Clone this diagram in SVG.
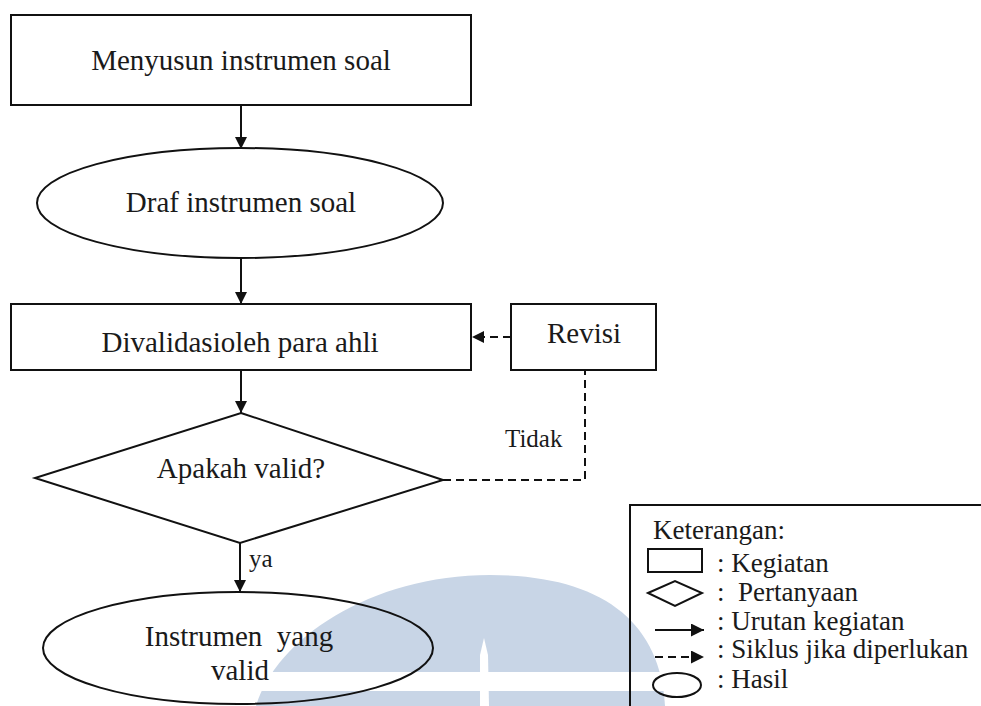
<svg xmlns="http://www.w3.org/2000/svg" width="981" height="706" viewBox="0 0 981 706">
<defs>
<marker id="ah" viewBox="0 0 10 10" refX="10" refY="5" markerWidth="13" markerHeight="12" markerUnits="userSpaceOnUse" orient="auto">
<path d="M0,0 L10,5 L0,10 Z" fill="#111"/>
</marker>
<marker id="ahs" viewBox="0 0 10 10" refX="10" refY="5" markerWidth="13" markerHeight="13" markerUnits="userSpaceOnUse" orient="auto">
<path d="M0,0 L10,5 L0,10 Z" fill="#111"/>
</marker>
</defs>
<style>
.bx{fill:#fff;stroke:#111;stroke-width:2}
.nf{fill:none;stroke:#111;stroke-width:2}
.ln{fill:none;stroke:#111;stroke-width:2}
.ds{fill:none;stroke:#111;stroke-width:2;stroke-dasharray:8 5}
.t{font-family:"Liberation Serif","Times New Roman",serif;font-size:29px;fill:#1a1a1a;text-anchor:middle}
.s{font-family:"Liberation Serif","Times New Roman",serif;font-size:25px;fill:#1a1a1a}
.lg{font-family:"Liberation Serif","Times New Roman",serif;font-size:27px;fill:#1a1a1a;white-space:pre}
.wm{fill:#c8d5e6}
</style>
<rect width="981" height="706" fill="#fff"/>
<g id="watermark">
<path class="wm" d="M256,706 C275,640 370,575 490,575 C600,575 660,620 665,706 Z"/>
<rect x="240" y="672" width="440" height="19" fill="#fff"/>
<path d="M480,706 L480,655 L484,638 L488,655 L489,706 Z" fill="#fff"/>
</g>
<g id="connectors">
<line class="ln" x1="241" y1="105" x2="241" y2="149" marker-end="url(#ah)"/>
<line class="ln" x1="241" y1="258" x2="241" y2="304" marker-end="url(#ah)"/>
<line class="ln" x1="241" y1="370" x2="241" y2="413" marker-end="url(#ah)"/>
<line class="ln" x1="240" y1="543" x2="240" y2="592" marker-end="url(#ah)"/>
<line class="ds" x1="511" y1="337" x2="472" y2="337" marker-end="url(#ah)"/>
<polyline class="ds" points="443,480 585,480 585,370"/>
<text class="s" x="505" y="447">Tidak</text>
<text class="s" x="249" y="567">ya</text>
</g>
<g id="n1">
<rect class="bx" x="11" y="15" width="460" height="90"/>
<text class="t" x="241" y="70">Menyusun instrumen soal</text>
</g>
<g id="n2">
<ellipse class="bx" cx="240" cy="203" rx="203" ry="55"/>
<text class="t" x="241" y="212">Draf instrumen soal</text>
</g>
<g id="n3">
<rect class="bx" x="11" y="304" width="460" height="66"/>
<text class="t" x="240" y="352">Divalidasioleh para ahli</text>
</g>
<g id="n4">
<rect class="bx" x="511" y="304" width="145" height="66"/>
<text class="t" x="584" y="343">Revisi</text>
</g>
<g id="n5">
<polygon class="bx" points="241,413 443,480 240,543 35,478"/>
<text class="t" x="241" y="478">Apakah valid?</text>
</g>
<g id="n6">
<ellipse class="nf" cx="238" cy="648" rx="195" ry="56"/>
<text class="t" x="239" y="646" style="white-space:pre">Instrumen  yang</text>
<text class="t" x="240" y="680">valid</text>
</g>
<g id="legend">
<rect class="nf" x="630" y="505" width="400" height="250"/>
<text class="lg" x="653" y="539">Keterangan:</text>
<rect class="nf" x="648" y="549" width="54" height="23"/>
<text class="lg" x="717" y="572">: Kegiatan</text>
<polygon class="nf" points="648,593 675,581 702,593 675,606"/>
<text class="lg" x="717" y="601">:  Pertanyaan</text>
<line class="ln" x1="655" y1="630" x2="704" y2="630" marker-end="url(#ahs)"/>
<text class="lg" x="717" y="630">: Urutan kegiatan</text>
<line class="ds" x1="655" y1="657" x2="704" y2="657" marker-end="url(#ahs)"/>
<text class="lg" x="717" y="658">: Siklus jika diperlukan</text>
<ellipse class="nf" cx="677" cy="685" rx="24" ry="12"/>
<text class="lg" x="717" y="688">: Hasil</text>
</g>
</svg>
